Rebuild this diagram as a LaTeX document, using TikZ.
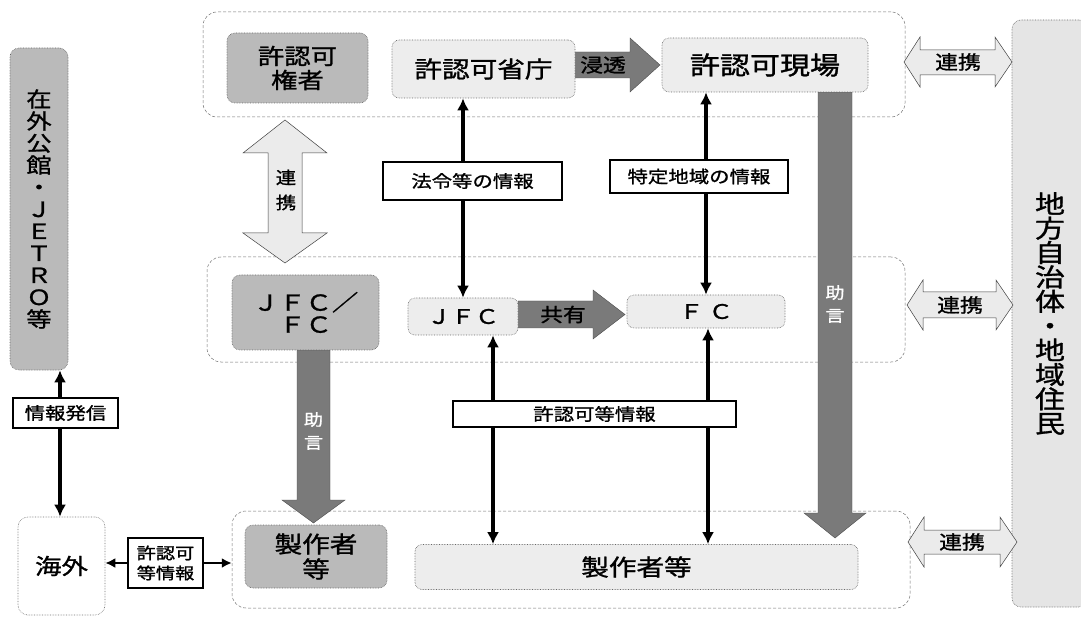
\documentclass[tikz,border=0pt]{standalone}
\usepackage{fontspec}
\setmainfont{Noto Sans CJK JP}[FakeStretch=1.2,FakeBold=1.2]
\usetikzlibrary{arrows.meta,calc}
\tikzset{
  grp/.style={draw=black!55, densely dashed, line width=0.5pt, rounded corners=14pt, fill=white},
  gbox/.style={draw=black!60, densely dotted, line width=0.6pt, fill=black!27, rounded corners=8pt, inner sep=0pt, align=center, font=\fontsize{22}{24}\selectfont},
  lbox/.style={draw=black!60, densely dotted, line width=0.6pt, fill=black!7, rounded corners=7pt, inner sep=0pt, align=center, font=\fontsize{22}{24}\selectfont},
  tbox/.style={draw=black, line width=1.1pt, fill=white, inner sep=0pt, align=center, font=\fontsize{17}{19}\selectfont},
  wbox/.style={draw=black!55, densely dotted, line width=0.6pt, fill=white, rounded corners=10pt, inner sep=0pt, align=center, font=\fontsize{22}{24}\selectfont},
  link/.style={line width=3.6pt, {Latex[length=12pt,width=12pt]}-{Latex[length=12pt,width=12pt]}},
  slink/.style={line width=2.8pt, -{Latex[length=10pt,width=10pt]}},
  blk/.style={fill=black!52, draw=black!70, line width=0.4pt},
  lnk/.style={fill=black!8, draw=black!75, line width=0.5pt},
  atxt/.style={inner sep=0pt, font=\fontsize{19}{21}\selectfont},
  vtxt/.style={inner sep=0pt, align=center, font=\fontsize{16}{23}\selectfont}
}
\begin{document}
\begin{tikzpicture}[x=1pt,y=-1pt]
\useasboundingbox (0,0) rectangle (1081,617);
\fill[white] (0,0) rectangle (1081,617);

% group frames
\node[grp, minimum width=702pt, minimum height=105pt] (g1) at (554,64.5) {};
\node[grp, minimum width=698pt, minimum height=105pt] (g2) at (556,309.5) {};
\node[grp, minimum width=678pt, minimum height=97pt] (g3) at (571,559.5) {};

% right tall box
\node[lbox, fill=black!10, minimum width=76pt, minimum height=587pt, rounded corners=9pt,
      font=\fontsize{25}{24.4}\selectfont] (local) at (1050,313.5)
      {地\\方\\自\\治\\体\\・\\地\\域\\住\\民};

% block arrows
\draw[blk] (575,52) -- (630,52) -- (630,38) -- (660,65) -- (630,92) -- (630,78) -- (575,78) -- cycle;
\node[atxt] (tshinto) at (603,65) {浸透};
\draw[blk] (518,301) -- (593,301) -- (593,290) -- (625,314.5) -- (593,339) -- (593,328) -- (518,328) -- cycle;
\node[atxt] (tkyoyu) at (563,314.5) {共有};
\draw[blk] (818,92) -- (852,92) -- (852,513) -- (866,513) -- (835,538) -- (804,513) -- (818,513) -- cycle;
\node[vtxt, text=white] (tjogen1) at (835,304) {助\\言};
\draw[blk] (297,350) -- (330,350) -- (330,500) -- (345,500) -- (313.5,523) -- (282,500) -- (297,500) -- cycle;
\node[vtxt, text=white] (tjogen2) at (313.5,431) {助\\言};
\draw[lnk] (285,120) -- (327,153) -- (302,153) -- (302,233) -- (327,233) -- (285,263) -- (243,233) -- (268,233) -- (268,153) -- (243,153) -- cycle;
\node[vtxt, font=\fontsize{17}{25}\selectfont] (trenkei1) at (286,190) {連\\携};
\draw[lnk] (904,62) -- (920,37) -- (920,50) -- (995,50) -- (995,37) -- (1012,62) -- (995,87) -- (995,75) -- (920,75) -- (920,87) -- cycle;
\node[atxt] (trenkei2) at (958,62) {連携};
\draw[lnk] (907,305) -- (923,280) -- (923,292) -- (996,292) -- (996,280) -- (1013,305) -- (996,330) -- (996,318) -- (923,318) -- (923,330) -- cycle;
\node[atxt] (trenkei3) at (960,305) {連携};
\draw[lnk] (908,542) -- (924,517) -- (924,530) -- (1000,530) -- (1000,517) -- (1017,542) -- (1000,567) -- (1000,554) -- (924,554) -- (924,567) -- cycle;
\node[atxt] (trenkei4) at (962,542) {連携};

% main boxes
\node[gbox, minimum width=141pt, minimum height=70pt] (kenja) at (297.5,68) {許認可\\権者};
\node[lbox, minimum width=183pt, minimum height=58pt, font=\fontsize{23}{24}\selectfont] (shocho) at (483.5,69) {許認可省庁};
\node[lbox, minimum width=206pt, minimum height=54pt, font=\fontsize{25}{24}\selectfont] (genba) at (765,65) {許認可現場};
\node[gbox, minimum width=147pt, minimum height=75pt, font=\fontsize{22}{22}\selectfont] (jfcfc) at (305.5,312.5) {ＪＦＣ／\\ＦＣ};
\node[lbox, minimum width=110pt, minimum height=37pt, font=\fontsize{20}{22}\selectfont] (jfc) at (463,316.5) {ＪＦＣ};
\node[lbox, minimum width=158pt, minimum height=33pt, font=\fontsize{20}{22}\selectfont] (fc) at (706,311.5) {Ｆ Ｃ};
\node[gbox, minimum width=142pt, minimum height=63pt, font=\fontsize{23}{25}\selectfont] (seisakuA) at (316,556.5) {製作者\\等};
\node[lbox, minimum width=443pt, minimum height=45pt, font=\fontsize{23}{24}\selectfont] (seisakuB) at (636.5,567) {製作者等};
\node[gbox, minimum width=58pt, minimum height=322pt, rounded corners=9pt, font=\fontsize{21}{22}\selectfont] (jetro) at (39,209) {在\\外\\公\\館\\・\\Ｊ\\Ｅ\\Ｔ\\Ｒ\\Ｏ\\等};
\node[wbox, minimum width=87pt, minimum height=98pt] (kaigai) at (61.5,566) {海外};

% connectors
\coordinate (xa) at (493,0);
\coordinate (xb) at (708,0);
\coordinate (xc) at (60,0);
\draw[link] (shocho.south -| jfc.north) -- (jfc.north);
\draw[link] (genba.south -| fc.north) -- (fc.north);
\draw[link] (jfc.south -| xa) -- (seisakuB.north -| xa);
\draw[link] (fc.south -| xb) -- (seisakuB.north -| xb);
\draw[link] (jetro.south -| xc) -- (kaigai.north -| xc);

% label boxes
\node[tbox, minimum width=179pt, minimum height=38pt] (hourei) at (472.5,181) {法令等の情報};
\node[tbox, minimum width=178pt, minimum height=33pt] (tokutei) at (699,176.5) {特定地域の情報};
\node[tbox, minimum width=283pt, minimum height=26pt] (kyokainfo) at (594.5,414) {許認可等情報};
\node[tbox, minimum width=105pt, minimum height=30pt] (hasshin) at (65.5,413) {情報発信};
\node[tbox, minimum width=75pt, minimum height=50pt, font=\fontsize{16}{20}\selectfont] (kyokasmall) at (165.5,563) {許認可\\等情報};
\draw[slink] (kyokasmall.west) -- (kyokasmall.west -| kaigai.east);
\draw[slink] (kyokasmall.east) -- (kyokasmall.east -| g3.west);
\end{tikzpicture}
\end{document}
